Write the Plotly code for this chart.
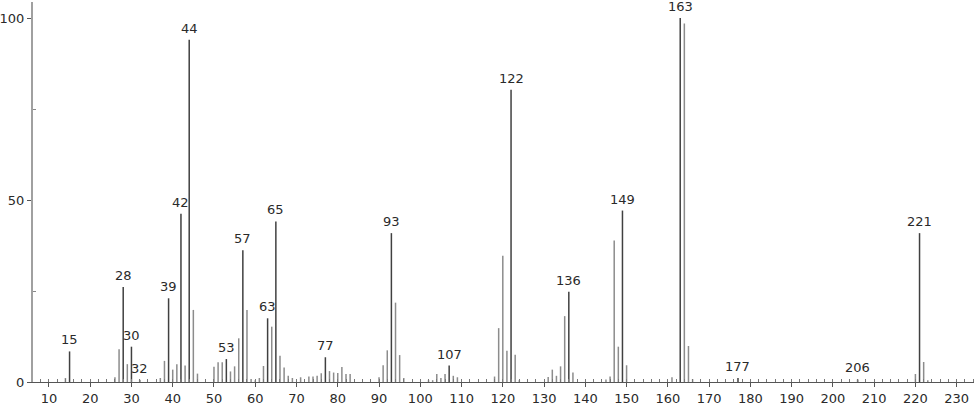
import plotly.graph_objects as go

# m/z values and relative intensities
mz = [14, 15, 26, 27, 28, 29, 30, 32, 37, 38, 39, 40, 41, 42, 43, 44, 45, 46,
      50, 51, 52, 53, 54, 55, 56, 57, 58, 59, 60, 61, 62, 63, 64, 65, 66, 67,
      68, 69, 71, 73, 74, 75, 76, 77, 78, 79, 80, 81, 82, 83, 90, 91, 92, 93,
      94, 95, 96, 102, 103, 104, 105, 106, 107, 108, 109, 118, 119, 120, 121,
      122, 123, 124, 131, 132, 133, 134, 135, 136, 137, 145, 146, 147, 148,
      149, 150, 161, 163, 164, 165, 166, 177, 206, 220, 221, 222, 223]
intensity = [1.1, 8.4, 1.3, 9.0, 26.1, 4.9, 9.7, 0.6, 1.1, 5.8, 23.0, 3.4, 4.9,
             46.2, 4.5, 94.0, 19.8, 2.3, 4.2, 5.4, 5.4, 6.3, 2.9, 4.3, 12.0,
             36.2, 19.8, 0.8, 0.5, 1.1, 4.4, 17.5, 15.2, 44.1, 7.2, 4.0, 1.7,
             1.1, 1.3, 1.5, 1.5, 1.7, 2.4, 6.8, 3.0, 2.6, 2.5, 4.1, 2.2, 2.2,
             1.3, 4.6, 8.7, 40.9, 21.8, 7.4, 1.1, 0.5, 0.5, 2.2, 1.1, 2.2, 4.5,
             1.7, 1.3, 1.5, 14.8, 34.7, 8.6, 80.3, 7.5, 0.5, 1.4, 3.4, 1.7, 4.3,
             18.1, 24.8, 2.6, 0.7, 1.5, 38.9, 9.7, 47.1, 4.6, 1.3, 100.0, 98.5,
             9.9, 0.8, 1.1, 0.7, 2.2, 40.9, 5.5, 0.5]
labelled = [15, 28, 30, 32, 39, 42, 44, 53, 57, 63, 65, 77, 93, 107, 122, 136,
            149, 163, 177, 206, 221]

x_ticks = list(range(10, 231, 10))
y_ticks = [0, 50, 100]

FONT = "DejaVu Sans"

def segments(xs, ys):
    sx, sy = [], []
    for a, b in zip(xs, ys):
        sx += [a, a, None]
        sy += [0, b, None]
    return sx, sy

lab_set = set(labelled)
plain_x = [m for m in mz if m not in lab_set]
plain_y = [h for m, h in zip(mz, intensity) if m not in lab_set]
lab_x = [m for m in mz if m in lab_set]
lab_y = [h for m, h in zip(mz, intensity) if m in lab_set]

fig = go.Figure()
px_, py_ = segments(plain_x, plain_y)
fig.add_trace(go.Scatter(x=px_, y=py_, mode="lines",
                         line=dict(color="#8c8c8c", width=1.5),
                         hoverinfo="skip", showlegend=False))
lx_, ly_ = segments(lab_x, lab_y)
fig.add_trace(go.Scatter(x=lx_, y=ly_, mode="lines",
                         line=dict(color="#404040", width=1.5),
                         hoverinfo="skip", showlegend=False))

for m, h in zip(lab_x, lab_y):
    fig.add_annotation(x=m, y=h, text=str(m), showarrow=False,
                       xanchor="center", yanchor="bottom", yshift=2,
                       font=dict(family=FONT, size=13, color="#2a2a2a"))

fig.update_layout(
    width=974, height=406,
    margin=dict(l=29, r=0, t=2, b=22),
    paper_bgcolor="white", plot_bgcolor="white",
    font=dict(family=FONT, size=13, color="#2a2a2a"),
    xaxis=dict(range=[6.14, 234.2], tickvals=x_ticks, ticks="outside",
               ticklen=4, tickcolor="#555", showgrid=False, zeroline=False,
               showline=True, linecolor="#555", linewidth=1,
               tickfont=dict(family=FONT, size=13, color="#2a2a2a"),
               minor=dict(dtick=2, tick0=0, ticks="inside", ticklen=3,
                          tickcolor="#777", showgrid=False)),
    yaxis=dict(range=[0, 104.4], tickvals=y_ticks, ticks="outside",
               ticklen=4, tickcolor="#555", showgrid=False, zeroline=False,
               showline=True, linecolor="#a0a0a0", linewidth=2,
               tickfont=dict(family=FONT, size=13, color="#2a2a2a"),
               minor=dict(tickvals=[25, 75], ticks="inside", ticklen=3,
                          tickcolor="#888", showgrid=False)),
)

fig.write_html("out.html",
               config={"displayModeBar": False},
               post_script="document.body.style.margin='0px';"
                           "document.body.style.overflow='hidden';")
